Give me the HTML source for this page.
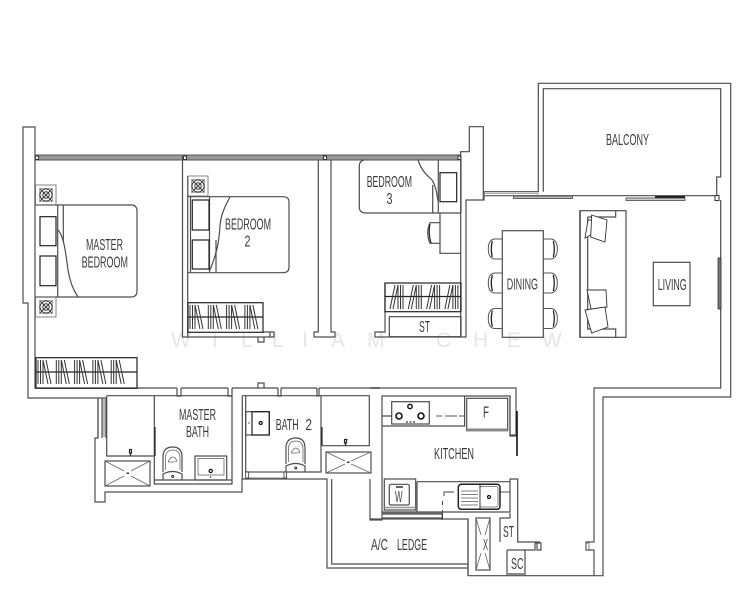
<!DOCTYPE html>
<html>
<head>
<meta charset="utf-8">
<style>
html,body{margin:0;padding:0;background:#fff;width:753px;height:600px;overflow:hidden}
svg{display:block}
.l{fill:none;stroke:#4d4d4d;stroke-width:1.2}
.t{fill:none;stroke:#666;stroke-width:.8}
.k{fill:none;stroke:#222;stroke-width:1.2}
text{font-family:"Liberation Sans Narrow","Liberation Sans",sans-serif;fill:#3a3a3a;font-size:16px}
.wm{fill:#e6e6e6;font-size:21px;font-family:"Liberation Sans",sans-serif}
</style>
</head>
<body>
<svg width="753" height="600" viewBox="0 0 753 600" xmlns="http://www.w3.org/2000/svg">
<defs>
<g id="h">
<path d="M0 0V24M2.500 0V24M5 0V24M5 0L10 24M8 0L13 24" stroke="#333" stroke-width="1" fill="none"/>
</g>
<g id="m">
<path d="M13 0V24M10.500 0V24M8 0V24M5 0L0 24M8 0L3 24" stroke="#333" stroke-width="1" fill="none"/>
</g>
<g id="fan">
<rect x="-6.500" y="-6.500" width="13" height="13" fill="none" stroke="#777" stroke-width=".6"/>
<circle r="6" fill="none" stroke="#333" stroke-width="1"/>
<circle r="3.200" fill="none" stroke="#333" stroke-width="1"/>
<path d="M-6 -6L6 6M-6 6L6 -6" stroke="#333" stroke-width=".9"/>
</g>
<g id="cl">
<path d="M14 0H6Q0 1 0 10Q0 19 6 20H14" fill="none" stroke="#555" stroke-width="1"/>
<path d="M4 2Q2 10 4 18" fill="none" stroke="#222" stroke-width="1.300"/>
</g>
</defs>

<!-- watermark -->
<g>
<text class="wm" x="171" y="347">W</text><text class="wm" x="212" y="347">I</text>
<text class="wm" x="241" y="347">L</text><text class="wm" x="272" y="347">L</text>
<text class="wm" x="302" y="347">I</text><text class="wm" x="331" y="347">A</text>
<text class="wm" x="367" y="347">M</text><text class="wm" x="436" y="347">C</text>
<text class="wm" x="473" y="347">H</text><text class="wm" x="507" y="347">E</text>
<text class="wm" x="542" y="347">W</text>
</g>

<!-- top band -->
<rect x="35" y="155" width="425" height="5" fill="#999" stroke="#555" stroke-width="1"/>
<g fill="#fff" stroke="#333" stroke-width="1">
<rect x="35.500" y="156" width="3" height="3.500"/><rect x="183.500" y="156" width="3" height="3.500"/><rect x="323.500" y="156" width="3" height="3.500"/><rect x="458" y="156" width="3" height="3.500"/>
</g>

<!-- outer walls -->
<path class="l" d="M35 160V127H23V303H28V398H98V438H95V502H105V492H242V479H327V568H468M35 160V388H137M137 388H177M181 388H228M232 388H278M281 388H317M319 388H516V435H510V396H382V520H370V479M98 398H106"/>
<path class="l" d="M177 388V396H181V388M228 388V396H232V388M278 388V396H281V388M317 388V396H319V388"/>
<path class="l" d="M258 388V383H264V388"/>
<path class="l" d="M331.700 479V564H468M370 519H468V575.700H603V397H730.700V83.300H538.300V191.700H484M543.300 191.700V88.700H720.700V177H716.700V195.700H484M484 191.700V200H466V337H461M483.300 200V126.700H469.300V151.700H460.700V155"/>
<path class="l" d="M720.700 200V388H594V542H586V550H594V575.700"/>
<rect x="586" y="543" width="3" height="7" class="t"/>
<rect x="484" y="193.500" width="54" height="2" fill="none" stroke="#777" stroke-width=".6"/>
<path class="l" d="M382 512H510V479H517.700V542H540M510 513V518H500V542M468 519V575"/>
<path class="l" d="M507 550H535V543M535 543H541V550H537V543M507 550V575.700M525 550V575.700"/>
<rect x="507" y="573" width="18" height="2" fill="#888"/>
<rect x="382" y="513" width="60" height="6" class="t"/>
<path class="l" d="M382 514H442M382 518H442V520"/>

<!-- balcony doors -->
<rect x="513.500" y="196" width="59" height="2.500" fill="#bbb" stroke="#444" stroke-width=".8"/>
<rect x="626" y="198" width="59" height="2.500" fill="#ccc" stroke="#444" stroke-width=".8"/>
<rect x="655" y="196" width="30" height="2" fill="#222"/>
<rect x="715" y="195.500" width="4" height="5" fill="#fff" stroke="#333" stroke-width="1"/>
<rect x="718" y="258" width="3" height="51" fill="#777" stroke="#333" stroke-width=".8"/>

<!-- interior walls -->
<path class="l" d="M182.500 156V337H187.700V176M182.500 337H187.700"/>
<path class="l" d="M318.300 160V332H314V337H335V332H331V160M318.300 337H331"/>
<path class="l" d="M460.700 155V337M385 283V332H375V337H461"/>
<path class="l" d="M263 332H274V337H187.700M270 332V337M258 337V342H264V337"/>

<!-- master bedroom -->
<path class="l" d="M35 205H131Q137 205 137 211V291Q137 297 131 297H35"/>
<path class="l" d="M57.700 205V297M63.300 205V242"/>
<path class="l" d="M58 230C64 236 66 255 68 270C70 283 74 291 78 297"/>
<rect x="40" y="216.700" width="16" height="29" class="k"/>
<rect x="40" y="256" width="16" height="29.700" class="k"/>
<rect x="35.500" y="185" width="20.500" height="20" class="t"/>
<rect x="35.500" y="297" width="20.500" height="20" class="t"/>
<use href="#fan" x="46" y="195"/><use href="#fan" x="46" y="307"/>

<!-- bedroom 2 -->
<path class="l" d="M188 196.700H283Q289 196.700 289 202V267Q289 272.700 283 272.700H188"/>
<path class="l" d="M190.500 197V272M209.500 197V272M216 240V272"/>
<path class="l" d="M230 197C224 208 221 215 220 226C219 240 218 250 210 270"/>
<rect x="192.300" y="200" width="16.700" height="30" class="k"/>
<rect x="192.300" y="240" width="16.700" height="29" class="k"/>
<rect x="188" y="176" width="20" height="20" class="t"/>
<use href="#fan" x="198" y="186"/>

<!-- bedroom 3 -->
<path class="l" d="M364 160Q359.300 161 359.300 166V207Q359.300 213 366 213H461"/>
<path class="l" d="M438.300 160V213M432.700 213V185"/>
<path class="l" d="M418 160C422 172 428 176 432 180C436 186 437 195 438 201"/>
<rect x="440" y="172.700" width="16.700" height="29" class="k"/>
<path class="l" d="M440 213V253.300H461M440 222.700H430Q425.500 233 430 243.300H440"/>
<path class="k" d="M430 224Q428 233 431 243"/>
<path class="l" d="M461 160V213"/>

<!-- closets -->
<rect x="36" y="357.700" width="101" height="30.600" class="k" stroke-width="1.400"/>
<path class="k" d="M36 372H137"/>
<use href="#h" x="38" y="360"/><use href="#h" x="56.300" y="360"/><use href="#h" x="74.600" y="360"/><use href="#h" x="92.900" y="360"/><use href="#h" x="111.200" y="360"/>
<rect x="188" y="302.700" width="75" height="29.600" class="k"/>
<path class="k" d="M188 317H263"/>
<use href="#h" x="190" y="305"/><use href="#h" x="208.300" y="305"/><use href="#h" x="226.600" y="305"/><use href="#h" x="244.900" y="305"/>
<rect x="385" y="283" width="76" height="28.700" class="k"/>
<path class="k" d="M385 296.500H461"/>
<use href="#m" x="390" y="285"/><use href="#m" x="408.300" y="285"/><use href="#m" x="426.600" y="285"/><use href="#m" x="444.900" y="285"/>
<rect x="389.300" y="316.700" width="71.700" height="20" class="l"/>

<!-- dining -->
<rect x="502.300" y="230.700" width="41" height="106.600" class="l"/>
<use href="#cl" x="488.300" y="239"/><use href="#cl" x="488.300" y="273"/><use href="#cl" x="488.300" y="308.500"/>
<use href="#cl" transform="translate(557.300 239) scale(-1 1)"/><use href="#cl" transform="translate(557.300 273) scale(-1 1)"/><use href="#cl" transform="translate(557.300 308.500) scale(-1 1)"/>

<!-- sofa -->
<rect x="580" y="210.700" width="46" height="126.600" class="l"/>
<path class="k" d="M580 210.700V337.300" stroke-width="1.400"/>
<path class="l" d="M587.700 217H615.700V210.700M587.700 217V329H615.700V337.300" stroke-width="1"/>
<path d="M588 220L585 238L590.700 235L593 220Z" fill="#fff" stroke="#333" stroke-width=".9"/>
<path d="M591.700 215L607 220L605 242L590.700 237Z" fill="#fff" stroke="#333" stroke-width=".9"/>
<path d="M587 290L606 290L607 307L591.700 312Z" fill="#fff" stroke="#333" stroke-width=".9"/>
<path d="M585 310L605 307L608 327L591.700 333Z" fill="#fff" stroke="#333" stroke-width=".9"/>

<!-- living table -->
<rect x="653.300" y="262.300" width="36.700" height="43.400" class="l"/>

<!-- master bath -->
<path class="l" d="M106.700 395.700H232V484H154.300V395.700M106.700 395.700V456H154.300M154.300 480H232M98 398V438"/>
<path class="l" d="M102 398V438M106 398V438" stroke-width=".9"/>
<rect x="102.500" y="399" width="3" height="38" fill="#bbb"/>
<path class="k" d="M155 427V456" stroke-width="1"/>
<rect x="105" y="461" width="45" height="25" class="l"/>
<path class="t" d="M105 461L124 471M131 476L150 486M105 486L124 476M131 471L150 461"/>
<rect x="126.500" y="472.500" width="2.500" height="1.500" fill="#333"/>
<path class="k" d="M129 449.500H132M129.500 450V453H131.500V450M130.500 453V456" stroke-width="1"/>
<path class="l" d="M163 472V457Q163 447 172.700 447Q182 447 182 457V472" stroke-width="1"/>
<path class="t" d="M165.500 470V458Q165.500 450 172.700 450Q180 450 180 458V470"/>
<path class="t" d="M168.500 461Q172.700 453 177 461Q177 462 168.500 462Z"/>
<path class="l" d="M163 480V474Q172.700 469 182 474V480" stroke-width="1"/>
<circle cx="172.700" cy="476.500" r="1" fill="none" stroke="#333"/>
<rect x="195" y="456" width="31.700" height="24" class="l"/>
<rect x="198" y="458.500" width="26" height="16.500" class="t"/>
<circle cx="210.700" cy="471" r="1.600" fill="none" stroke="#111" stroke-width="1.200"/>
<circle cx="210.500" cy="477" r=".8" fill="#333"/>

<!-- bath 2 -->
<path class="l" d="M242.300 395.700H321V472H286V479M242.300 395.700V479M245.700 395.700V472H286"/>
<rect x="246" y="472" width="40" height="6" fill="none" stroke="#666" stroke-width=".8"/>
<rect x="245.700" y="472" width="3" height="6" fill="#fff" stroke="#333" stroke-width=".8"/>
<rect x="284" y="472" width="2.500" height="6" fill="#fff" stroke="#333" stroke-width=".8"/>
<path class="k" d="M322 427V446" stroke-width="1"/>
<rect x="245.700" y="411.700" width="23.600" height="23.300" class="l" stroke-width="1"/>
<rect x="252" y="411.700" width="17.300" height="23.300" class="k"/>
<circle cx="260.700" cy="423" r="1.500" fill="none" stroke="#111" stroke-width="1.200"/>
<circle cx="249" cy="423" r=".7" fill="#333"/>
<path class="l" d="M286 464V448Q286 438 295.700 438Q305 438 305 448V464" stroke-width="1"/>
<path class="t" d="M288.500 462V449Q288.500 441 295.700 441Q303 441 303 449V462"/>
<path class="t" d="M291.500 452Q295.700 444 300 452Q300 453 291.500 453Z"/>
<path class="l" d="M286 472V466Q295.700 461 305 466V472" stroke-width="1"/>
<circle cx="295.700" cy="468" r="1" fill="none" stroke="#333"/>

<!-- shower right -->
<path class="l" d="M321 395.700H369.300V445.700H321"/>
<rect x="326" y="452" width="45" height="21" class="l"/>
<path class="t" d="M326 452L345 461M351 464L371 473M326 473L345 464M351 461L371 452"/>
<rect x="347" y="461.500" width="2.500" height="1.500" fill="#333"/>
<path class="k" d="M344 439.500H347.500M344.500 440V443H346.500V440M345.500 443V446" stroke-width="1"/>
<path class="k" d="M370 388H380" stroke-width="1"/>

<!-- kitchen -->
<path class="l" d="M382 426H464.600V396M382 416H391.700" stroke-width="1"/>
<path d="M436 416H442M445 416H457M459 416H465" stroke="#555" stroke-width="1" fill="none"/>
<rect x="391.700" y="401.700" width="37.600" height="22.300" class="l" stroke-width="1"/>
<circle cx="399" cy="416" r="3" fill="none" stroke="#111" stroke-width="1.600"/>
<circle cx="410" cy="406.500" r="2.200" fill="none" stroke="#111" stroke-width="1.400"/>
<circle cx="421" cy="416" r="3" fill="none" stroke="#111" stroke-width="1.600"/>
<path d="M406 422H408M409.500 422H411.500M413 422H415" stroke="#333" stroke-width="1.200"/>
<rect x="466.700" y="398.300" width="41" height="32.400" class="l" stroke-width="1"/>
<rect x="466.700" y="428.500" width="41" height="2.500" fill="#888"/>
<path class="l" d="M510 396V436H517"/>
<path d="M517 411V456" stroke="#111" stroke-width="1.600"/>

<rect x="384.300" y="479" width="31.400" height="31" class="l" stroke-width="1"/>
<path d="M384.300 507.500H415.700" stroke="#999" stroke-width="1.400"/>
<rect x="389.300" y="484.300" width="20" height="20.700" rx="1.500" class="l"/>
<path d="M396 487H403" stroke="#222" stroke-width="1.400"/>

<path class="l" d="M417 481.700H510M417 481.700V512" stroke-width="1"/>
<path d="M500 492H510" stroke="#555" stroke-width="1"/>
<rect x="458.300" y="484.300" width="41.700" height="25" rx="3" fill="none" stroke="#222" stroke-width="1.500"/>
<path class="l" d="M480 485V508.500" stroke-width="1.200"/>
<rect x="480" y="486.500" width="18" height="20.500" rx="2" class="t"/>
<path d="M461 491H478M461 494.500H478M461 498H478M461 501.500H478M461 505H478" stroke="#555" stroke-width=".8"/>
<circle cx="489" cy="497" r="1.500" fill="none" stroke="#111" stroke-width="1.200"/>
<path d="M454 492H444V496M442.500 501V505M442.500 510V519" fill="none" stroke="#444" stroke-width="1"/>

<!-- vent -->
<rect x="476" y="518" width="14" height="52" class="l"/>
<path class="t" d="M476 518L481 535M490 518L485 535M476 570L481 553M490 570L485 553"/>

<!-- labels -->
<text x="86" y="250" textLength="37" lengthAdjust="spacingAndGlyphs">MASTER</text>
<text x="81.600" y="267.500" textLength="46.400" lengthAdjust="spacingAndGlyphs">BEDROOM</text>
<text x="225" y="229.500" textLength="46" lengthAdjust="spacingAndGlyphs">BEDROOM</text>
<text x="244.500" y="246.500" textLength="6" lengthAdjust="spacingAndGlyphs">2</text>
<text x="366.700" y="187" textLength="45.300" lengthAdjust="spacingAndGlyphs">BEDROOM</text>
<text x="386.500" y="204" textLength="6" lengthAdjust="spacingAndGlyphs">3</text>
<text x="606" y="145" textLength="43" lengthAdjust="spacingAndGlyphs">BALCONY</text>
<text x="506.700" y="289.500" textLength="31.300" lengthAdjust="spacingAndGlyphs">DINING</text>
<text x="657.700" y="290" textLength="29" lengthAdjust="spacingAndGlyphs">LIVING</text>
<text x="419" y="332" textLength="11" lengthAdjust="spacingAndGlyphs">ST</text>
<text x="179" y="420" textLength="37" lengthAdjust="spacingAndGlyphs">MASTER</text>
<text x="186" y="437" textLength="23" lengthAdjust="spacingAndGlyphs">BATH</text>
<text x="275.700" y="430" textLength="23" lengthAdjust="spacingAndGlyphs">BATH</text>
<text x="305.500" y="430" textLength="6.500" lengthAdjust="spacingAndGlyphs">2</text>
<text x="434" y="459" textLength="40" lengthAdjust="spacingAndGlyphs">KITCHEN</text>
<text x="371" y="550" textLength="17" lengthAdjust="spacingAndGlyphs">A/C</text>
<text x="397" y="550" textLength="30" lengthAdjust="spacingAndGlyphs">LEDGE</text>
<text x="483" y="417.500" textLength="6" lengthAdjust="spacingAndGlyphs">F</text>
<text x="395" y="502" textLength="7.500" lengthAdjust="spacingAndGlyphs">W</text>
<text x="503" y="537" textLength="11" lengthAdjust="spacingAndGlyphs">ST</text>
<text x="511" y="569" textLength="12.500" lengthAdjust="spacingAndGlyphs">SC</text>
<text x="483" y="550" textLength="5" lengthAdjust="spacingAndGlyphs">X</text>
</svg>
</body>
</html>
